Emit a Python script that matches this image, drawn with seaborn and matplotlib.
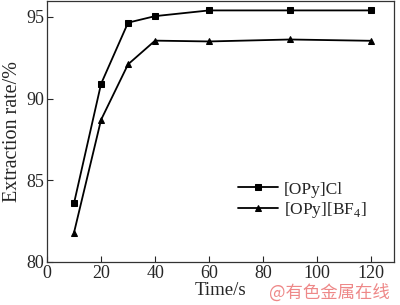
import matplotlib
matplotlib.use("Agg")
import matplotlib.pyplot as plt
import seaborn as sns
import pandas as pd

time_s = [10, 20, 30, 40, 60, 90, 120]
opy_cl = [83.6, 90.9, 94.65, 95.05, 95.4, 95.4, 95.4]
opy_bf4 = [81.8, 88.7, 92.1, 93.55, 93.5, 93.62, 93.54]
series_names = ["[OPy]Cl", "[OPy][BF$_4$]"]
x_ticks = [0, 20, 40, 60, 80, 100, 120]
y_ticks = [80, 85, 90, 95]

df = pd.DataFrame({
    "Time": time_s * 2,
    "Rate": opy_cl + opy_bf4,
    "Series": [series_names[0]] * len(time_s) + [series_names[1]] * len(time_s),
})

sns.set_theme(style="ticks")
plt.rcParams["font.family"] = ["Liberation Serif", "DejaVu Serif"]
plt.rcParams["mathtext.fontset"] = "custom"
plt.rcParams["mathtext.rm"] = "Liberation Serif"

fig = plt.figure(figsize=(4.0, 3.05), dpi=100)
ax = fig.add_axes([0.1175, 0.141, 0.868, 0.857])

sns.lineplot(data=df, x="Time", y="Rate", hue="Series", style="Series",
             markers={series_names[0]: "s", series_names[1]: "^"},
             dashes=False, palette=["black", "black"], linewidth=1.3,
             markersize=5, markeredgecolor="black", ax=ax)

ax.set_xlim(0, 128.5)
ax.set_ylim(80, 96)
ax.set_xticks(x_ticks)
ax.set_yticks(y_ticks)
ax.tick_params(direction="in", length=4, width=0.8, labelsize=13, pad=2)
for s in ax.spines.values():
    s.set_linewidth(0.9)
    s.set_color("#333333")
ax.set_xlabel("Time/s", fontsize=13.5, labelpad=0)
ax.set_ylabel("Extraction rate/%", fontsize=14.5, labelpad=3)

leg = ax.legend(loc="upper left", bbox_to_anchor=(0.53, 0.335), frameon=False,
                fontsize=12.5, handlelength=2.3, handletextpad=0.35,
                labelspacing=0.15, borderaxespad=0)

fig.text(0.975, 0.04, "@有色金属在线", color="#ee8888", fontsize=12.5,
         ha="right", va="center", family=["Noto Sans CJK SC", "DejaVu Sans"])

fig.savefig("out.png", dpi=100)
